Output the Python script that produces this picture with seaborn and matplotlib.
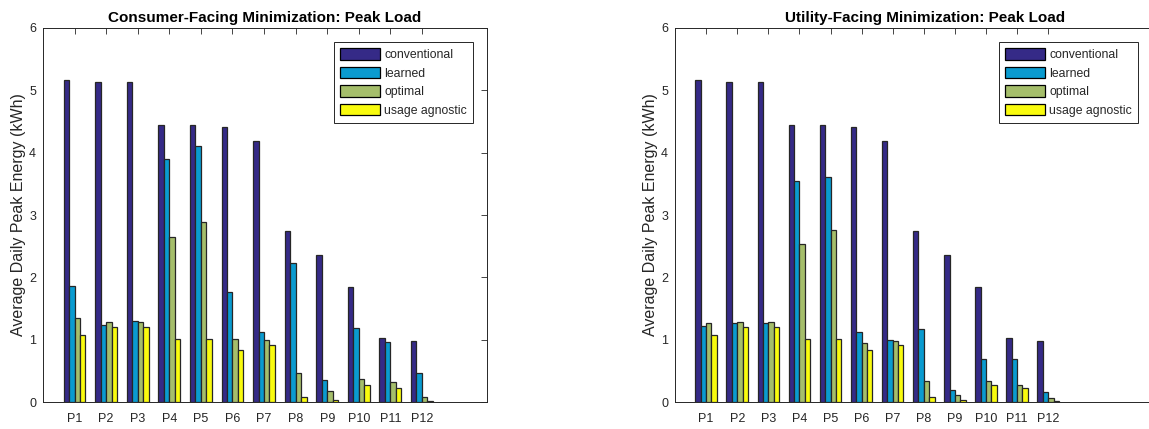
import numpy as np
import pandas as pd
import matplotlib
matplotlib.use("Agg")
import matplotlib.pyplot as plt
from matplotlib.patches import Patch
import seaborn as sns

sns.set_theme(style="white")
plt.rcParams["font.family"] = ["Liberation Sans", "DejaVu Sans"]

profiles = ["P1", "P2", "P3", "P4", "P5", "P6", "P7", "P8", "P9", "P10", "P11", "P12"]
methods = ["conventional", "learned", "optimal", "usage agnostic"]

# Consumer-facing minimization
consumer_conventional = [5.16, 5.13, 5.13, 4.44, 4.44, 4.41, 4.18, 2.75, 2.36, 1.85, 1.03, 0.98]
consumer_learned = [1.86, 1.24, 1.30, 3.89, 4.10, 1.76, 1.12, 2.23, 0.35, 1.19, 0.96, 0.47]
consumer_optimal = [1.35, 1.29, 1.29, 2.64, 2.89, 1.01, 0.99, 0.47, 0.18, 0.37, 0.33, 0.09]
consumer_agnostic = [1.07, 1.20, 1.20, 1.01, 1.01, 0.83, 0.92, 0.09, 0.03, 0.27, 0.23, 0.02]

# Utility-facing minimization
utility_conventional = [5.16, 5.13, 5.13, 4.44, 4.44, 4.41, 4.18, 2.75, 2.36, 1.85, 1.03, 0.98]
utility_learned = [1.22, 1.27, 1.27, 3.55, 3.61, 1.13, 1.00, 1.18, 0.19, 0.70, 0.70, 0.16]
utility_optimal = [1.27, 1.28, 1.28, 2.53, 2.76, 0.95, 0.98, 0.34, 0.12, 0.34, 0.28, 0.07]
utility_agnostic = [1.07, 1.20, 1.20, 1.01, 1.01, 0.83, 0.92, 0.09, 0.03, 0.27, 0.23, 0.02]

palette = ["#352A87", "#0A9BD0", "#A5BE6B", "#F9FB0E"]


def long_table(series):
    frames = []
    for name, vals in zip(methods, series):
        frames.append(pd.DataFrame({"profile": profiles, "method": name, "energy": vals}))
    return pd.concat(frames, ignore_index=True)


consumer = long_table([consumer_conventional, consumer_learned, consumer_optimal, consumer_agnostic])
utility = long_table([utility_conventional, utility_learned, utility_optimal, utility_agnostic])

W, H = 1149, 429
fig = plt.figure(figsize=(W / 100, H / 100), dpi=100)
# axes boxes in pixels: left, bottom, width, height
ax1 = fig.add_axes([43 / W, 26.7 / H, 444 / W, 374.6 / H])
ax2 = fig.add_axes([675 / W, 26.7 / H, 500 / W, 374.6 / H])  # right side runs past the canvas

panels = [
    (ax1, consumer, "Consumer-Facing Minimization: Peak Load", 13.06, 473, 26),
    (ax2, utility, "Utility-Facing Minimization: Peak Load", -1 + 500 / 31.1, 1138, 658),
]

for ax, df, title, xmax, leg_right, ylab_x in panels:
    sns.barplot(
        data=df, x="profile", y="energy", hue="method",
        hue_order=methods, order=profiles, palette=palette,
        saturation=1, width=0.69, edgecolor="#262626", linewidth=0.9,
        legend=False, ax=ax,
    )
    ax.set_xlim(-1, xmax)
    ax.set_ylim(0, 6)
    ax.set_yticks(range(0, 7))
    ax.set_title(title, fontsize=11, fontweight="bold", color="black", pad=4)
    ax.set_xlabel("")
    ax.set_ylabel("Average Daily Peak Energy (kWh)", fontsize=11.5, color="#262626")
    x0 = ax.get_position().x0 * W
    wpx = ax.get_position().width * W
    ax.yaxis.set_label_coords((ylab_x - x0) / wpx, 0.5)
    ax.tick_params(axis="both", which="both", direction="in", length=4, width=0.6,
                   colors="#262626", labelsize=9, top=True, right=True, pad=5)
    ax.tick_params(axis="x", pad=8)
    for sp in ax.spines.values():
        sp.set_visible(True)
        sp.set_color("#262626")
        sp.set_linewidth(0.7)
    handles = [Patch(facecolor=c, edgecolor="black", linewidth=0.9, label=m)
               for c, m in zip(palette, methods)]
    leg = ax.legend(handles=handles, loc="upper right",
                    bbox_to_anchor=(leg_right / W, 1 - 42 / H), bbox_transform=fig.transFigure,
                    fontsize=8.8, frameon=True, fancybox=False, framealpha=1,
                    handlelength=3.3, handleheight=1.1, handletextpad=0.3,
                    labelspacing=0.45, borderpad=0.5, borderaxespad=0)
    leg.get_frame().set_edgecolor("#262626")
    leg.get_frame().set_linewidth(0.7)

fig.savefig("out.png", dpi=100)
